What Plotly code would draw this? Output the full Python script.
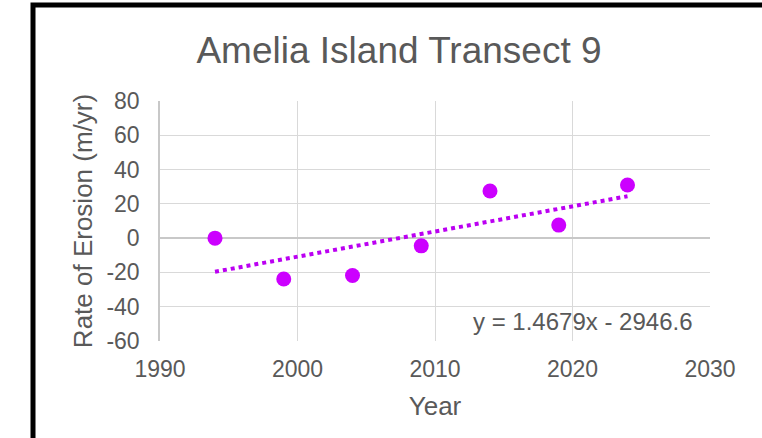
import plotly.graph_objects as go

years = [1994, 1999, 2004, 2009, 2014, 2019, 2024]
erosion = [0.0, -23.8, -21.8, -4.5, 27.5, 7.6, 31.0]
trend_slope = 1.4679
trend_intercept = -2946.6
trend_x = [years[0], years[-1]]
trend_y = [trend_slope * x + trend_intercept for x in trend_x]
x_ticks = [1990, 2000, 2010, 2020, 2030]
y_ticks = [-60, -40, -20, 0, 20, 40, 60, 80]
y_tick_labels = ["-60", "-40", "-20", "0", "20", "40", "60", "80"]

FONT = "Liberation Sans, Arial, sans-serif"
GREY = "#595959"

fig = go.Figure()
fig.add_trace(go.Scatter(x=trend_x, y=trend_y, mode="lines",
                         line=dict(color="#BB00F2", width=4, dash="dot"),
                         hoverinfo="skip", showlegend=False))
fig.add_trace(go.Scatter(x=years, y=erosion, mode="markers",
                         marker=dict(color="#CC00FF", size=15),
                         showlegend=False))

fig.update_layout(
    width=762, height=438,
    margin=dict(l=160, r=52, t=101, b=97),
    paper_bgcolor="white", plot_bgcolor="white",
    font=dict(family=FONT, color=GREY),
    title=dict(text="Amelia Island Transect 9", x=399/762, xanchor="center",
               y=1 - 50/438, yanchor="middle",
               font=dict(size=37, color=GREY, family=FONT)),
    xaxis=dict(range=[1990, 2030], tickvals=x_ticks, showgrid=True,
               gridcolor="#D9D9D9", gridwidth=1, zeroline=False,
               showline=False, ticks="", ticklabelstandoff=12,
               tickfont=dict(size=23, color=GREY),
               title=dict(text="Year", font=dict(size=26, color=GREY), standoff=15)),
    yaxis=dict(range=[-60, 80], tickvals=y_ticks, ticktext=y_tick_labels,
               showgrid=True, gridcolor="#D9D9D9", gridwidth=1, zeroline=True,
               zerolinecolor="#C8C8C8", zerolinewidth=1.5,
               showline=True, linecolor="#C8C8C8", linewidth=1.5,
               ticks="", ticklabelstandoff=14,
               tickfont=dict(size=23, color=GREY),
               title=dict(text="Rate of Erosion (m/yr)", font=dict(size=26, color=GREY), standoff=6)),
    shapes=[dict(type="rect", xref="paper", yref="paper",
                 x0=(33 - 160) / 550, x1=1.2, y0=-0.7, y1=(341 - 5) / 240,
                 line=dict(color="black", width=5), layer="above")],
    annotations=[dict(text="y = 1.4679x - 2946.6", xref="paper", yref="paper",
                      x=(695 - 160) / 550, y=(341 - 321) / 240,
                      xanchor="right", yanchor="middle", showarrow=False,
                      font=dict(size=24, color=GREY, family=FONT))],
)

fig.write_html("out.html", config={"displayModeBar": False},
               post_script="document.body.style.margin='0';document.body.style.padding='0';")
